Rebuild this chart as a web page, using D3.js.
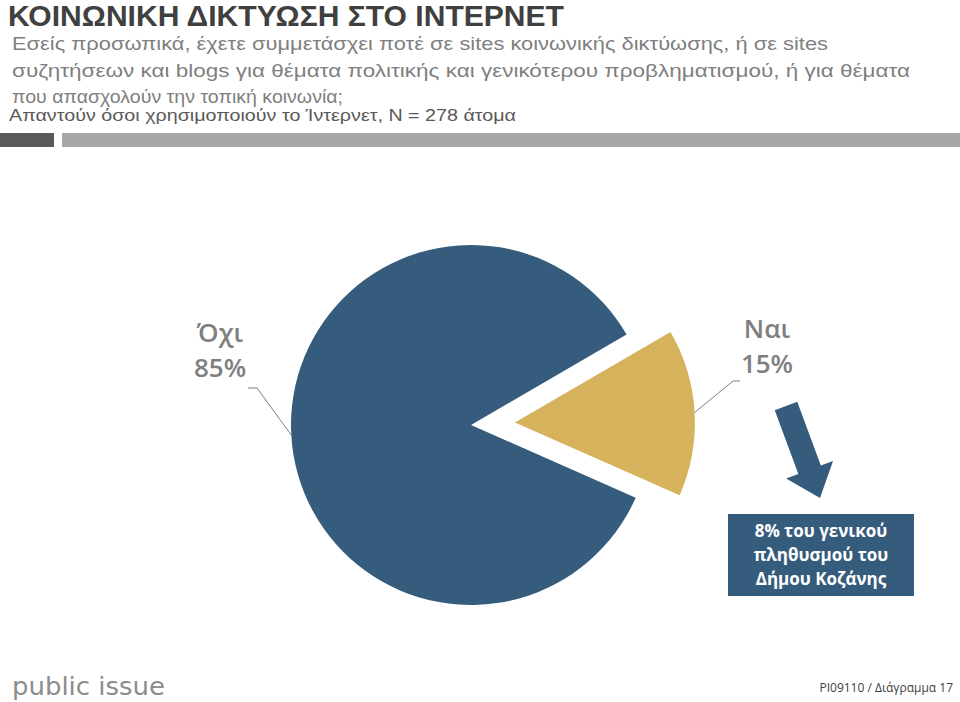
<!DOCTYPE html>
<html>
<head>
<meta charset="utf-8">
<script src="https://cdn.jsdelivr.net/npm/d3@7"></script>
<style>
  body { margin: 0; background: #fff; }
  svg { display: block; }
</style>
</head>
<body>
<div id="chart"></div>
<script>
/* CONSTANTS AND GLOBALS */
var width = 960,
    height = 702;

// data
const categories = ["Όχι", "Ναι"];
const values = [85, 15];
const percentLabels = ["85%", "15%"];
const sliceColors = ["#365c7d", "#d6b25d"];

const titleText = "ΚΟΙΝΩΝΙΚΗ ΔΙΚΤΥΩΣΗ ΣΤΟ ΙΝΤΕΡΝΕΤ";
const questionLines = [
  "Εσείς προσωπικά, έχετε συμμετάσχει ποτέ σε sites κοινωνικής δικτύωσης, ή σε sites",
  "συζητήσεων και blogs για θέματα πολιτικής και γενικότερου προβληματισμού, ή για θέματα",
  "που απασχολούν την τοπική κοινωνία;"
];
const baseText = "Απαντούν όσοι χρησιμοποιούν το Ίντερνετ, N = 278 άτομα";
const noteLines = ["8% του γενικού", "πληθυσμού του", "Δήμου Κοζάνης"];

var cx = 471, cy = 425, radius = 180;
var explode = 44;
var startDeg = 113.8;

var font = "'Open Sans', 'Noto Sans', sans-serif";
var headFont = "'Liberation Sans', Arial, sans-serif";

var svg = d3.select("#chart").append("svg")
  .attr("width", width)
  .attr("height", height);

// squeeze text to a width (the original uses a narrow font)
function fit(sel, w) {
  sel.attr("textLength", w).attr("lengthAdjust", "spacingAndGlyphs");
}

/* HEADER */
svg.append("text")
  .attr("x", 8).attr("y", 26)
  .attr("font-family", headFont)
  .attr("font-weight", 700)
  .attr("font-size", 29)
  .attr("fill", "#404040")
  .text(titleText)
  .call(fit, 556);

var qWidths = [816, 898, 331];
questionLines.forEach(function(l, i) {
  svg.append("text")
    .attr("x", 12).attr("y", 50 + i * 26.5)
    .attr("font-family", headFont)
    .attr("font-size", 19)
    .attr("fill", "#7f7f7f")
    .text(l)
    .call(fit, qWidths[i]);
});

svg.append("text")
  .attr("x", 9).attr("y", 121)
  .attr("font-family", headFont)
  .attr("font-size", 16)
  .attr("fill", "#595959")
  .text(baseText)
  .call(fit, 507);

svg.append("rect").attr("x", 0).attr("y", 133).attr("width", 54).attr("height", 14).attr("fill", "#595959");
svg.append("rect").attr("x", 62).attr("y", 133).attr("width", 898).attr("height", 14).attr("fill", "#a6a6a6");

/* PIE */
var rad = Math.PI / 180;
var pie = d3.pie()
  .sort(null)
  .startAngle(startDeg * rad)
  .endAngle(startDeg * rad + 2 * Math.PI);

var arcs = pie(values);
var arc = d3.arc().innerRadius(0).outerRadius(radius);

function offsetOf(d, i) {
  var mid = (d.startAngle + d.endAngle) / 2;
  var k = i === 1 ? explode : 0;
  return [Math.sin(mid) * k, -Math.cos(mid) * k];
}

var g = svg.append("g")
  .attr("transform", "translate(" + cx + "," + cy + ")");

g.selectAll(".slice")
  .data(arcs)
  .enter().append("path")
  .attr("class", "slice")
  .attr("transform", function(d, i) { return "translate(" + offsetOf(d, i) + ")"; })
  .attr("d", arc)
  .attr("fill", function(d, i) { return sliceColors[i]; });

// labels + leader lines
var labelPos = [[-251, -83], [296, -87]];   // relative to pie centre
var elbows = [[-214, -37], [262, -44]];
var ends = [[-223, -37], [269, -44]];

arcs.forEach(function(d, i) {
  var mid = (d.startAngle + d.endAngle) / 2;
  var off = offsetOf(d, i);
  var p0 = [off[0] + Math.sin(mid) * radius, off[1] - Math.cos(mid) * radius];
  g.append("polyline")
    .attr("points", [p0, elbows[i], ends[i]].map(function(p) { return p.join(","); }).join(" "))
    .attr("fill", "none")
    .attr("stroke", "#7f7f7f")
    .attr("stroke-width", 1);

  var t = g.append("text")
    .attr("x", labelPos[i][0])
    .attr("y", labelPos[i][1])
    .attr("text-anchor", "middle")
    .attr("font-family", font)
    .attr("font-weight", 600)
    .attr("font-size", 26)
    .attr("fill", "#7f7f7f");
  t.append("tspan").attr("x", labelPos[i][0]).attr("dy", 0).text(categories[i]);
  t.append("tspan").attr("x", labelPos[i][0]).attr("dy", 35).text(percentLabels[i]);
});

/* ARROW + NOTE BOX */
var ax = 786, ay = 406, ang = 69.7, len = 98;
var shaftW = 12, headW = 25, headL = 30;
var arrowPts = [
  [0, -shaftW], [len - headL, -shaftW], [len - headL, -headW], [len, 0],
  [len - headL, headW], [len - headL, shaftW], [0, shaftW]
];
svg.append("polygon")
  .attr("points", arrowPts.map(function(p) { return p.join(","); }).join(" "))
  .attr("transform", "translate(" + ax + "," + ay + ") rotate(" + ang + ")")
  .attr("fill", "#365c7d");

svg.append("rect")
  .attr("x", 728).attr("y", 514)
  .attr("width", 186).attr("height", 82)
  .attr("fill", "#365c7d");

noteLines.forEach(function(l, i) {
  svg.append("text")
    .attr("x", 821).attr("y", 537 + i * 24)
    .attr("text-anchor", "middle")
    .attr("font-family", font)
    .attr("font-weight", 700)
    .attr("font-size", 17)
    .attr("fill", "#fff")
    .text(l);
});

/* FOOTER */
svg.append("text")
  .attr("x", 12).attr("y", 695)
  .attr("font-family", "'DejaVu Sans', sans-serif")
  .attr("font-size", 25)
  .attr("fill", "#8c8c8c")
  .text("public issue")
  .call(fit, 153);

svg.append("text")
  .attr("x", 953).attr("y", 692)
  .attr("text-anchor", "end")
  .attr("font-family", font)
  .attr("font-size", 12)
  .attr("fill", "#404040")
  .text("PI09110 / Διάγραμμα 17");
</script>
</body>
</html>
